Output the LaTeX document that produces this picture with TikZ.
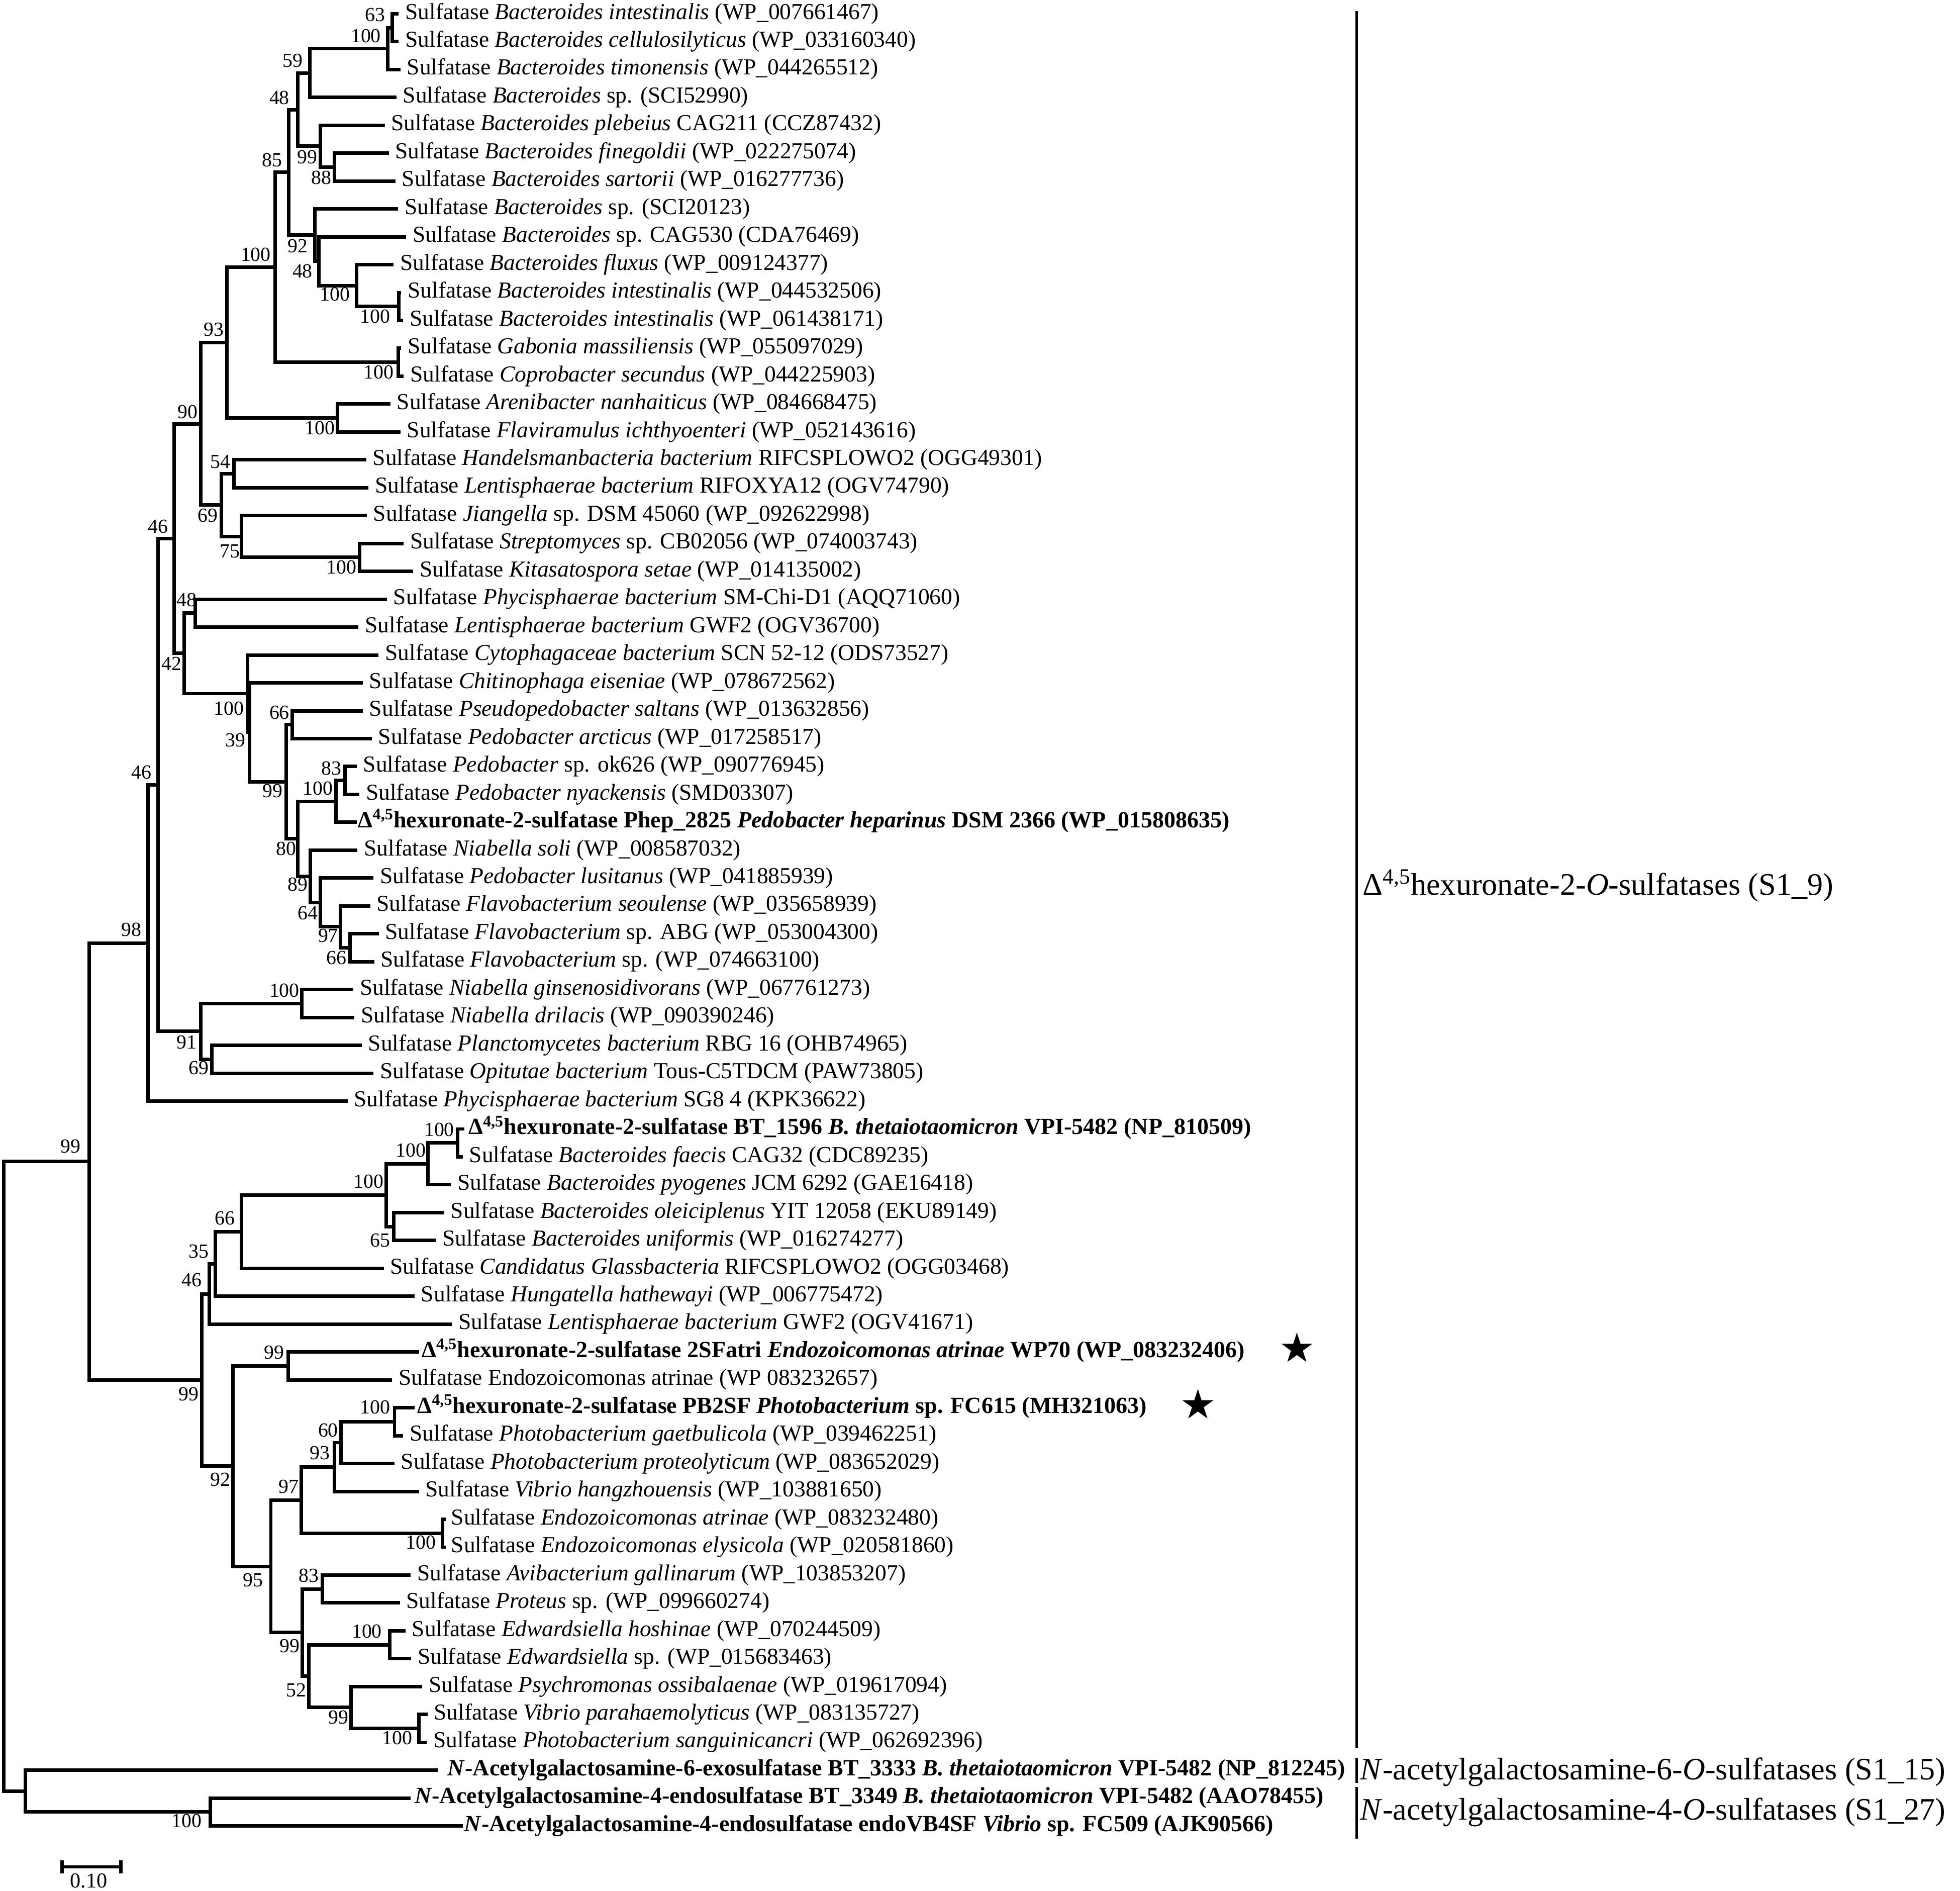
\documentclass[tikz,border=0pt]{standalone}
\usepackage{fontspec}
\setmainfont{Liberation Serif}
\usetikzlibrary{shapes.geometric}
\newcommand{\sulf}{Sulfatase\ }
\newcommand{\dhex}{Δ\textsuperscript{4,5}hexuronate-2-sulfatase}
\newcommand{\leafat}[4]{\coordinate (t#1) at (#2,#1); \node[leaf] (n#1) at ({#2+#3},#1) {#4};}
\newcommand{\bleafat}[4]{\coordinate (t#1) at (#2,#1); \node[bleaf] (n#1) at ({#2+#3},#1) {#4};}
\newcommand{\clade}[3]{\draw[br] (#1) |- (#2) (#1) |- (#3);}
\begin{document}
\begin{tikzpicture}[x=1pt,y=-1pt,
 br/.style={line width=2.8pt, line join=miter, line cap=butt},
 leaf/.style={anchor=west, inner sep=0pt, text height=8.6pt, text depth=0pt, font=\fontsize{18.3}{20}\selectfont},
 bleaf/.style={leaf, font=\fontsize{18.5}{20}\selectfont\bfseries},
 bs/.style={inner sep=0pt, font=\fontsize{16}{18}\selectfont},
 grp/.style={anchor=base west, inner sep=0pt, font=\fontsize{25}{28}\selectfont},
 brk/.style={line width=1.8pt},
 starmark/.style={star, star points=5, star point ratio=2.618, fill=black, draw=none, minimum size=26pt, inner sep=0pt}]
\useasboundingbox (0,0) rectangle (1568,1512.5);

\begin{scope}[y=-22.3pt, yshift=11.3pt]
% ---- leaves ----
\leafat{1}{319}{5}{\sulf\textit{Bacteroides intestinalis} (WP\_007661467)}
\leafat{2}{319}{5}{\sulf\textit{Bacteroides cellulosilyticus} (WP\_033160340)}
\leafat{3}{320.4}{5}{\sulf\textit{Bacteroides timonensis} (WP\_044265512)}
\leafat{4}{317.2}{5}{\sulf\textit{Bacteroides} sp. (SCI52990)}
\leafat{5}{307.8}{5}{\sulf\textit{Bacteroides plebeius} CAG211 (CCZ87432)}
\leafat{6}{311}{5}{\sulf\textit{Bacteroides finegoldii} (WP\_022275074)}
\leafat{7}{316.4}{5}{\sulf\textit{Bacteroides sartorii} (WP\_016277736)}
\leafat{8}{318.5}{5}{\sulf\textit{Bacteroides} sp. (SCI20123)}
\leafat{9}{325}{5}{\sulf\textit{Bacteroides} sp. CAG530 (CDA76469)}
\leafat{10}{315}{5}{\sulf\textit{Bacteroides fluxus} (WP\_009124377)}
\leafat{11}{321}{5}{\sulf\textit{Bacteroides intestinalis} (WP\_044532506)}
\leafat{12}{322.5}{5}{\sulf\textit{Bacteroides intestinalis} (WP\_061438171)}
\leafat{13}{321}{5}{\sulf\textit{Gabonia massiliensis} (WP\_055097029)}
\leafat{14}{323}{5}{\sulf\textit{Coprobacter secundus} (WP\_044225903)}
\leafat{15}{312.3}{5}{\sulf\textit{Arenibacter nanhaiticus} (WP\_084668475)}
\leafat{16}{320.4}{5}{\sulf\textit{Flaviramulus ichthyoenteri} (WP\_052143616)}
\leafat{17}{293}{5}{\sulf\textit{Handelsmanbacteria bacterium} RIFCSPLOWO2 (OGG49301)}
\leafat{18}{294.8}{5}{\sulf\textit{Lentisphaerae bacterium} RIFOXYA12 (OGV74790)}
\leafat{19}{293.5}{5}{\sulf\textit{Jiangella} sp. DSM 45060 (WP\_092622998)}
\leafat{20}{323}{5}{\sulf\textit{Streptomyces} sp. CB02056 (WP\_074003743)}
\leafat{21}{330.6}{5}{\sulf\textit{Kitasatospora setae} (WP\_014135002)}
\leafat{22}{309.6}{5}{\sulf\textit{Phycisphaerae bacterium} SM-Chi-D1 (AQQ71060)}
\leafat{23}{286.8}{5}{\sulf\textit{Lentisphaerae bacterium} GWF2 (OGV36700)}
\leafat{24}{302.9}{5}{\sulf\textit{Cytophagaceae bacterium} SCN 52-12 (ODS73527)}
\leafat{25}{290.3}{5}{\sulf\textit{Chitinophaga eiseniae} (WP\_078672562)}
\leafat{26}{290.3}{5}{\sulf\textit{Pseudopedobacter saltans} (WP\_013632856)}
\leafat{27}{297.5}{5}{\sulf\textit{Pedobacter arcticus} (WP\_017258517)}
\leafat{28}{285.4}{5}{\sulf\textit{Pedobacter} sp. ok626 (WP\_090776945)}
\leafat{29}{287.6}{5}{\sulf\textit{Pedobacter nyackensis} (SMD03307)}
\bleafat{30}{285.4}{1}{\dhex{} Phep\_2825 \textit{Pedobacter heparinus} DSM 2366 (WP\_015808635)}
\leafat{31}{286}{5}{\sulf\textit{Niabella soli} (WP\_008587032)}
\leafat{32}{298.9}{5}{\sulf\textit{Pedobacter lusitanus} (WP\_041885939)}
\leafat{33}{296.2}{5}{\sulf\textit{Flavobacterium seoulense} (WP\_035658939)}
\leafat{34}{303}{5}{\sulf\textit{Flavobacterium} sp. ABG (WP\_053004300)}
\leafat{35}{299.4}{5}{\sulf\textit{Flavobacterium} sp. (WP\_074663100)}
\leafat{36}{282.7}{5}{\sulf\textit{Niabella ginsenosidivorans} (WP\_067761273)}
\leafat{37}{283.5}{5}{\sulf\textit{Niabella drilacis} (WP\_090390246)}
\leafat{38}{289.4}{5}{\sulf\textit{Planctomycetes bacterium} RBG 16 (OHB74965)}
\leafat{39}{298.9}{5}{\sulf\textit{Opitutae bacterium} Tous-C5TDCM (PAW73805)}
\leafat{40}{278.1}{5}{\sulf\textit{Phycisphaerae bacterium} SG8 4 (KPK36622)}
\bleafat{41}{371.6}{3}{\dhex{} BT\_1596 \textit{B. thetaiotaomicron} VPI-5482 (NP\_810509)}
\leafat{42}{370.2}{5}{\sulf\textit{Bacteroides faecis} CAG32 (CDC89235)}
\leafat{43}{360.8}{5}{\sulf\textit{Bacteroides pyogenes} JCM 6292 (GAE16418)}
\leafat{44}{355.4}{5}{\sulf\textit{Bacteroides oleiciplenus} YIT 12058 (EKU89149)}
\leafat{45}{348.7}{5}{\sulf\textit{Bacteroides uniformis} (WP\_016274277)}
\leafat{46}{307}{5}{\sulf\textit{Candidatus Glassbacteria} RIFCSPLOWO2 (OGG03468)}
\leafat{47}{331.7}{5}{\sulf\textit{Hungatella hathewayi} (WP\_006775472)}
\leafat{48}{361.6}{5}{\sulf\textit{Lentisphaerae bacterium} GWF2 (OGV41671)}
\bleafat{49}{335.2}{2}{\dhex{} 2SFatri \textit{Endozoicomonas atrinae} WP70 (WP\_083232406)}
\leafat{50}{313.7}{5}{\sulf Endozoicomonas atrinae (WP 083232657)}
\bleafat{51}{331.7}{2}{\dhex{} PB2SF \textit{Photobacterium} sp. FC615 (MH321063)}
\leafat{52}{322.6}{5}{\sulf\textit{Photobacterium gaetbulicola} (WP\_039462251)}
\leafat{53}{315.6}{5}{\sulf\textit{Photobacterium proteolyticum} (WP\_083652029)}
\leafat{54}{335.2}{5}{\sulf\textit{Vibrio hangzhouensis} (WP\_103881650)}
\leafat{55}{356.8}{4}{\sulf\textit{Endozoicomonas atrinae} (WP\_083232480)}
\leafat{56}{356.8}{4}{\sulf\textit{Endozoicomonas elysicola} (WP\_020581860)}
\leafat{57}{328.5}{5}{\sulf\textit{Avibacterium gallinarum} (WP\_103853207)}
\leafat{58}{319.9}{5}{\sulf\textit{Proteus} sp. (WP\_099660274)}
\leafat{59}{324.4}{5}{\sulf\textit{Edwardsiella hoshinae} (WP\_070244509)}
\leafat{60}{329}{5}{\sulf\textit{Edwardsiella} sp. (WP\_015683463)}
\leafat{61}{337.9}{5}{\sulf\textit{Psychromonas ossibalaenae} (WP\_019617094)}
\leafat{62}{342}{5}{\sulf\textit{Vibrio parahaemolyticus} (WP\_083135727)}
\leafat{63}{341.4}{5}{\sulf\textit{Photobacterium sanguinicancri} (WP\_062692396)}
\bleafat{64}{350}{8}{\textit{N}-Acetylgalactosamine-6-exosulfatase BT\_3333 \textit{B. thetaiotaomicron} VPI-5482 (NP\_812245)}
\bleafat{65}{328.5}{3}{\textit{N}-Acetylgalactosamine-4-endosulfatase BT\_3349 \textit{B. thetaiotaomicron} VPI-5482 (AAO78455)}
\bleafat{66}{370.2}{1}{\textit{N}-Acetylgalactosamine-4-endosulfatase endoVB4SF \textit{Vibrio} sp. FC509 (AJK90566)}

% ---- internal nodes (x in px, y in rows) ----
\coordinate (A) at (313.7,1.5);
\coordinate (B) at (310.2,2.25);
\coordinate (C) at (247.7,3.125);
\coordinate (F) at (267.4,6.5);
\coordinate (E) at (256.3,5.75);
\coordinate (D) at (238.3,4.4375);
\coordinate (K) at (319,11.5);
\coordinate (J) at (285.4,10.75);
\coordinate (I) at (255.2,9.875);
\coordinate (H) at (251.7,8.9375);
\coordinate (G) at (231,6.6875);
\coordinate (N) at (318.5,13.5);
\coordinate (L) at (220.2,10.09375);
\coordinate (Q) at (270,15.5);
\coordinate (P) at (181.7,12.796875);
\coordinate (T) at (187,17.5);
\coordinate (V) at (287.6,20.5);
\coordinate (U) at (193.3,19.75);
\coordinate (S) at (177,18.625);
\coordinate (R) at (160.7,15.7109);
\coordinate (Y) at (156.2,22.5);
\coordinate (AC) at (233.7,26.5);
\coordinate (AG) at (276,28.5);
\coordinate (AE) at (268.7,29.25);
\coordinate (AJ) at (280,34.5);
\coordinate (AI) at (272.5,33.75);
\coordinate (AH) at (256.3,32.875);
\coordinate (AF) at (248.2,31.9375);
\coordinate (AD) at (238.3,30.59375);
\coordinate (AB) at (228.9,28.546875);
\coordinate (AA) at (199.8,26.7734);
\coordinate (Z) at (197.9,25.3867);
\coordinate (X) at (147.5,23.9434);
\coordinate (W) at (139.5,19.8271);
\coordinate (BD) at (241.5,36.5);
\coordinate (BE) at (169.6,38.5);
\coordinate (BB) at (160.7,37.5);
\coordinate (BA) at (126.5,28.6636);
\coordinate (BC) at (118.5,34.3318);
\coordinate (CC) at (366.2,41.5);
\coordinate (CD) at (342.5,42.25);
\coordinate (CF) at (315,44.5);
\coordinate (CE) at (309.1,43.375);
\coordinate (CG) at (193.3,44.6875);
\coordinate (CH) at (172.3,45.84375);
\coordinate (CI) at (167.5,46.921875);
\coordinate (CL) at (230.7,49.5);
\coordinate (CN) at (315.6,51.5);
\coordinate (CO) at (272.8,52.25);
\coordinate (CP) at (267.4,53.125);
\coordinate (CR) at (354,55.5);
\coordinate (CQ) at (241,54.3125);
\coordinate (CV) at (258,57.5);
\coordinate (CX) at (311.8,59.5);
\coordinate (CZ) at (335.2,62.5);
\coordinate (CY) at (280.8,61.75);
\coordinate (CW) at (247.2,60.625);
\coordinate (CU) at (241.8,59.0625);
\coordinate (CM) at (216.7,56.6875);
\coordinate (CK) at (186.3,53.09375);
\coordinate (CJ) at (161.5,50.0078);
\coordinate (CA) at (71.4,42.1698);
\coordinate (DB) at (168.3,65.5);
\coordinate (DA) at (20.2,64.75);
\coordinate (ROOT) at (3.2,53.46);

% ---- branches ----
\clade{A}{t1}{t2}
\clade{B}{A}{t3}
\clade{C}{B}{t4}
\clade{F}{t6}{t7}
\clade{E}{t5}{F}
\clade{D}{C}{E}
\clade{K}{t11}{t12}
\clade{J}{t10}{K}
\clade{I}{t9}{J}
\clade{H}{t8}{I}
\clade{G}{D}{H}
\clade{N}{t13}{t14}
\clade{L}{G}{N}
\clade{Q}{t15}{t16}
\clade{P}{L}{Q}
\clade{T}{t17}{t18}
\clade{V}{t20}{t21}
\clade{U}{t19}{V}
\clade{S}{T}{U}
\clade{R}{P}{S}
\clade{Y}{t22}{t23}
\clade{AC}{t26}{t27}
\clade{AG}{t28}{t29}
\clade{AE}{AG}{t30}
\clade{AJ}{t34}{t35}
\clade{AI}{t33}{AJ}
\clade{AH}{t32}{AI}
\clade{AF}{t31}{AH}
\clade{AD}{AE}{AF}
\clade{AB}{AC}{AD}
\clade{AA}{t25}{AB}
\clade{Z}{t24}{AA}
\clade{X}{Y}{Z}
\clade{W}{R}{X}
\clade{BD}{t36}{t37}
\clade{BE}{t38}{t39}
\clade{BB}{BD}{BE}
\clade{BA}{W}{BB}
\clade{BC}{BA}{t40}
\clade{CC}{t41}{t42}
\clade{CD}{CC}{t43}
\clade{CF}{t44}{t45}
\clade{CE}{CD}{CF}
\clade{CG}{CE}{t46}
\clade{CH}{CG}{t47}
\clade{CI}{CH}{t48}
\clade{CL}{t49}{t50}
\clade{CN}{t51}{t52}
\clade{CO}{CN}{t53}
\clade{CP}{CO}{t54}
\clade{CR}{t55}{t56}
\clade{CQ}{CP}{CR}
\clade{CV}{t57}{t58}
\clade{CX}{t59}{t60}
\clade{CZ}{t62}{t63}
\clade{CY}{t61}{CZ}
\clade{CW}{CX}{CY}
\clade{CU}{CV}{CW}
\clade{CM}{CQ}{CU}
\clade{CK}{CL}{CM}
\clade{CJ}{CI}{CK}
\clade{CA}{BC}{CJ}
\clade{DB}{t65}{t66}
\clade{DA}{t64}{DB}
\clade{ROOT}{CA}{DA}
\end{scope}

% ---- bootstrap values ----
\node[bs] (bA) at (300.2,11.9) {63};
\node[bs] (bB) at (292.7,28.6) {100};
\node[bs] (bC) at (234,48.5) {59};
\node[bs] (bD) at (223.5,78) {48};
\node[bs] (bE) at (246,125.6) {99};
\node[bs] (bF) at (257,142.3) {88};
\node[bs] (bG) at (217.6,128) {85};
\node[bs] (bH) at (238.3,197) {92};
\node[bs] (bI) at (242,217) {48};
\node[bs] (bJ) at (268,235.3) {100};
\node[bs] (bK) at (300,253.2) {100};
\node[bs] (bL) at (204.6,203.5) {100};
\node[bs] (bN) at (303,297.7) {100};
\node[bs] (bP) at (171,263.6) {93};
\node[bs] (bQ) at (255.8,342.3) {100};
\node[bs] (bR) at (150.2,329.5) {90};
\node[bs] (bS) at (166.4,412.2) {69};
\node[bs] (bT) at (176.4,369.3) {54};
\node[bs] (bU) at (184,440.8) {75};
\node[bs] (bV) at (273.3,453.5) {100};
\node[bs] (bW) at (126.5,421) {46};
\node[bs] (bY) at (149.4,479.8) {48};
\node[bs] (bX) at (137.3,531) {42};
\node[bs] (bZ) at (183,566.8) {100};
\node[bs] (bAA) at (188.5,592.2) {39};
\node[bs] (bAC) at (223.5,570) {66};
\node[bs] (bAB) at (218,632.7) {99};
\node[bs] (bAG) at (265.2,614.5) {83};
\node[bs] (bAE) at (254.4,630.4) {100};
\node[bs] (bAD) at (228.9,678.8) {80};
\node[bs] (bAF) at (238.3,707.5) {89};
\node[bs] (bAH) at (246.4,730.2) {64};
\node[bs] (bAI) at (262.5,748.4) {97};
\node[bs] (bAJ) at (269.3,766) {66};
\node[bs] (bBA) at (113,617.6) {46};
\node[bs] (bBC) at (105,743.7) {98};
\node[bs] (bBD) at (227.5,792.2) {100};
\node[bs] (bBB) at (149.4,833.5) {91};
\node[bs] (bBE) at (158.9,854.2) {69};
\node[bs] (bCA) at (56.5,917) {99};
\node[bs] (bCC) at (351.4,903.5) {100};
\node[bs] (bCD) at (328.5,920) {100};
\node[bs] (bCE) at (294.8,944.8) {100};
\node[bs] (bCG) at (179.9,974.5) {66};
\node[bs] (bCF) at (304.3,992) {65};
\node[bs] (bCH) at (158.9,1000.8) {35};
\node[bs] (bCI) at (153.5,1023.8) {46};
\node[bs] (bCJ) at (150.8,1115.2) {99};
\node[bs] (bCL) at (219.4,1081.9) {99};
\node[bs] (bCK) at (176.4,1183.6) {92};
\node[bs] (bCN) at (300.2,1125.6) {100};
\node[bs] (bCO) at (262.5,1143.9) {60};
\node[bs] (bCP) at (255.8,1162.1) {93};
\node[bs] (bCQ) at (231,1189.2) {97};
\node[bs] (bCR) at (336.6,1233.7) {100};
\node[bs] (bCM) at (202.5,1263.9) {95};
\node[bs] (bCV) at (247.2,1260) {83};
\node[bs] (bCU) at (231.6,1316.7) {99};
\node[bs] (bCX) at (293.5,1305) {100};
\node[bs] (bCW) at (237,1351.9) {52};
\node[bs] (bCY) at (270.6,1373.4) {99};
\node[bs] (bCZ) at (317.7,1390) {100};
\node[bs] (bDB) at (149.4,1456.4) {100};

% ---- stars ----
\node[starmark] (s1) at (1037.5,1078.8) {};
\node[starmark] (s2) at (958.3,1124) {};

% ---- group brackets and labels ----
\coordinate (k1a) at (1085.4,9);
\coordinate (k1b) at (1085.4,1398.5);
\coordinate (k2a) at (1085.4,1406);
\coordinate (k2b) at (1085.4,1426);
\coordinate (k3a) at (1085.4,1429.4);
\coordinate (k3b) at (1085.4,1470.8);
\draw[brk] (k1a) -- (k1b);
\draw[brk] (k2a) -- (k2b);
\draw[brk] (k3a) -- (k3b);
\node[grp] (g1) at (1090,716) {Δ\textsuperscript{4,5}hexuronate-2-\textit{O}-sulfatases (S1\_9)};
\node[grp] (g2) at (1088,1423.5) {\textit{N}-acetylgalactosamine-6-\textit{O}-sulfatases (S1\_15)};
\node[grp] (g3) at (1088,1455.5) {\textit{N}-acetylgalactosamine-4-\textit{O}-sulfatases (S1\_27)};

% ---- scale bar ----
\coordinate (sbL) at (49.5,1493.2);
\coordinate (sbR) at (96.5,1493.2);
\draw[br] (sbL) -- (sbR);
\draw[br] ([yshift=5.2pt]sbL) -- ([yshift=-5.2pt]sbL);
\draw[br] ([yshift=5.2pt]sbR) -- ([yshift=-5.2pt]sbR);
\node[bs, font=\fontsize{17}{19}\selectfont] (sblab) at (71,1504.4) {0.10};
\end{tikzpicture}
\end{document}
